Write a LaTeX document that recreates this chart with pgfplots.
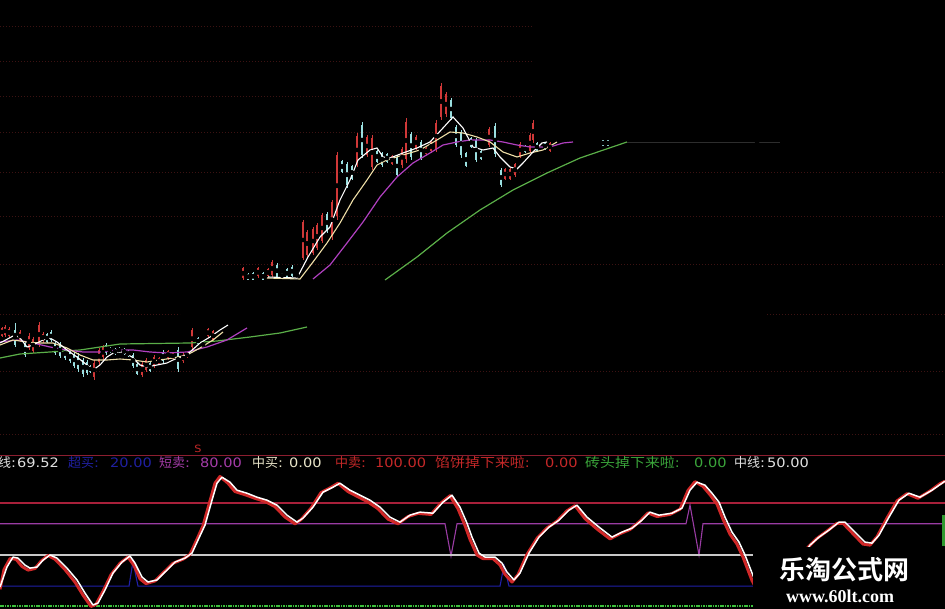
\documentclass[border=0pt]{standalone}
\usepackage{pgfplots}
\usepackage{pgfplotstable}
\usepackage{fontspec}
\pgfplotsset{compat=1.18}
\newfontfamily\cjk{Noto Sans CJK SC}
\newfontfamily\cjkwide[FakeStretch=1.15]{Noto Sans CJK SC}
\newfontfamily\cjkbold{Noto Sans CJK SC Bold}
\newfontfamily\num[FakeStretch=1.12]{DejaVu Sans}
\newfontfamily\wm{Liberation Serif}

\definecolor{candleup}{HTML}{D03838}
\definecolor{candledn}{HTML}{9ADFE0}
\definecolor{maW}{HTML}{FFFFFF}
\definecolor{maY}{HTML}{F0E0A8}
\definecolor{maP}{HTML}{B040C0}
\definecolor{maG}{HTML}{5AAE48}
\definecolor{gridred}{HTML}{3C1212}
\definecolor{sepred}{HTML}{8C1E30}
\definecolor{lvl100}{HTML}{A8203A}
\definecolor{lvl80}{HTML}{9A3CA4}
\definecolor{lvl50}{HTML}{C8C8C8}
\definecolor{lvl20}{HTML}{2020A8}
\definecolor{lvl0}{HTML}{3CC03C}
\definecolor{dline}{HTML}{D02828}
\definecolor{txtgrey}{HTML}{E0E0E0}
\definecolor{txtblue}{HTML}{2020A0}
\definecolor{txtpurple}{HTML}{A43CA8}
\definecolor{txtcream}{HTML}{E8E4C8}
\definecolor{txtred}{HTML}{C42828}
\definecolor{txtgreen}{HTML}{3AA43A}

% candles: x, wick top/bottom, body top/bottom (price panel, screen units)
\pgfplotstableread{
x hi lo bt bb
2 327 337 328 336
5 325 337 327 335
9 327 338 329 336
20 330 342 332 340
29 333 350 336 348
33 337 353 339 351
39 322 347 325 344
43 332 343 334 341
94 360 380 363 377
99 348 365 350 362
103 345 360 347 357
142 362 377 364 375
146 358 372 360 370
154 355 368 357 366
159 357 365 358 364
168 350 360 351 358
173 352 360 353 359
183 353 363 355 361
187 352 358 353 357
192 328 350 330 347
208 328 338 329 336
213 330 342 331 340
243 267 280 268 278
258 267 278 268 276
268 268 277 269 276
272 260 277 262 275
297 273 277 274 277
303 220 260 222 258
307 230 257 232 255
313 227 255 229 253
317 223 250 225 248
322 213 243 215 241
332 200 240 202 237
337 152 220 155 216
357 133 167 136 164
367 135 157 137 155
372 135 170 138 167
392 155 165 156 164
402 147 168 149 165
406 118 163 122 159
416 135 150 137 148
426 147 155 148 154
431 140 153 142 151
436 120 152 123 149
441 83 120 86 117
446 92 117 94 114
489 127 147 129 145
505 168 180 169 179
510 168 180 169 179
515 163 177 164 175
520 142 158 144 156
530 133 153 135 151
533 120 143 123 140
550 142 152 143 151
}\upcandles

\pgfplotstableread{
x hi lo bt bb
15 323 347 330 345
25 342 357 344 355
47 333 343 334 342
51 330 342 332 340
55 342 355 344 353
60 342 358 344 356
65 347 360 349 358
70 350 363 352 361
74 352 368 354 366
78 353 372 356 369
83 358 377 360 374
87 360 375 362 373
90 365 373 366 372
106 343 355 345 353
110 347 353 348 352
115 348 355 349 354
119 347 353 348 352
124 348 355 349 354
128 350 357 351 356
133 353 368 355 366
137 363 375 364 374
150 362 372 363 371
163 350 363 352 361
178 347 372 350 369
198 337 345 338 344
203 342 347 342 347
248 273 280 274 280
253 272 280 273 280
263 272 280 273 280
277 263 278 265 277
282 273 278 273 278
287 268 278 269 278
292 265 277 267 276
327 212 233 214 231
342 160 173 161 172
347 162 188 164 185
352 165 180 166 179
362 122 158 125 155
377 150 163 151 162
382 152 167 153 165
387 153 163 154 162
397 155 177 157 175
411 132 160 134 157
421 140 160 142 158
451 98 120 100 118
456 125 147 127 145
461 130 158 132 155
466 152 167 153 166
471 137 148 138 147
476 138 162 140 160
481 150 160 151 159
495 123 157 126 154
501 168 187 170 185
525 145 153 146 152
537 142 152 143 151
545 142 150 143 149
603 140 146 140 146
608 140 146 140 146
757 141 143 141 143
}\dncandles

% oscillator: fast line (white) and slow line (red)
\pgfplotstableread{
x v
0 19.2
7 38.5
13 48
18 47
25 40.3
30 37.4
37 38.4
43 45
50 50
57 47
67 37.4
77 26
85 13.4
93 1.9
98 3.8
105 16.3
113 32.6
122 43.2
130 49
135 42.2
142 28.8
148 24
157 26
167 35.5
175 43.2
185 47
192 51.8
198 64.3
205 78.7
212 102.7
217 119
222 124.8
230 120
237 112.3
247 109.4
257 105.6
267 102.7
277 97.9
287 88.3
297 81.6
303 85.4
313 96
323 110.4
333 115.2
340 119
350 112.3
360 107.5
370 102.7
380 96
390 86.4
400 81.6
410 88.3
420 91.2
433 90.2
443 100.8
452 107.5
460 96
467 80.6
472 67.2
479 51.8
485 48
495 48
502 42.2
507 33.6
514 26
520 32.6
529 51.8
539 67.2
549 76.8
559 83.5
569 93.1
577 97.9
587 86.4
599 76.8
612 67.2
622 72
632 75.8
642 83.5
650 91.2
659 88.3
672 90.2
682 95
690 112.3
697 120
705 117.1
712 109.4
719 100.8
725 86.4
732 72
739 62.4
745 50
754 27.8
765 8
780 15
795 38
810 59.5
819 67.2
829 74
839 81.6
845 81.6
855 72
865 62.4
872 61.4
879 69
889 86.4
899 102.7
909 109.4
920 105.6
932 112.3
942 119
945 121
}\kline

\pgfplotstableread{
x v
0 17
4 36
10 46.5
16 46
22 39
28 35.5
35 37
41 44
48 49.5
55 46
65 36
75 24
83 11.5
91 0.5
96 2.5
103 15
111 31
120 42
128 48
134 40
140 27
146 22.5
155 25
165 34.5
173 42
183 46
190 50.5
196 63
203 78
210 102
215 119
220 125.5
228 119
235 111
245 108
255 104.5
265 101.5
275 96.5
285 86.5
295 80
301 84
311 95
321 110
331 115
338 119
348 111
358 106
368 101
378 94.5
388 84.5
398 80
408 87
418 90
431 89
441 100
450 107
458 94.5
465 78.5
470 65
477 50
483 46.5
493 46.5
500 40.5
505 31.5
512 24
518 31
527 50.5
537 66
547 76
557 82.5
567 92.5
575 97.5
585 85
597 75
610 65.5
620 70.5
630 74.5
640 82.5
648 90.5
657 87
670 89
680 94
688 112
695 120.5
703 116
710 108
717 99
723 84.5
730 70
737 60.5
743 48
752 25.5
763 6
778 13
793 36
808 57.5
817 66
827 73
837 80.5
843 80.5
853 70.5
863 60.5
870 59.5
877 67.5
887 85.5
897 102
907 109
918 104.5
930 111.5
940 118.5
945 121
}\dline

\begin{document}
\begin{tikzpicture}
\useasboundingbox (0,0) rectangle (945pt,609pt);
\clip (0,0) rectangle (945pt,609pt);
\fill[black] (0,0) rectangle (945pt,609pt);

% ---------------- price panel ----------------
\begin{axis}[at={(0pt,609pt)}, anchor=north west, scale only axis,
  width=945pt, height=445pt, xmin=0, xmax=945, ymin=0, ymax=445,
  y dir=reverse, hide axis]
% dotted price levels
\pgfplotsforeachungrouped \yy in {27,62,97,133}{
  \addplot[gridred, dotted, line width=1pt, forget plot] coordinates {(0,\yy) (533,\yy)};}
\pgfplotsforeachungrouped \yy in {173,217,265,372,435}{
  \addplot[gridred, dotted, line width=1pt, forget plot] coordinates {(0,\yy) (945,\yy)};}
\addplot[gridred, dotted, line width=1pt] coordinates {(0,315) (180,315)};
\addplot[gridred, dotted, line width=1pt] coordinates {(767,315) (945,315)};

% wicks and bodies
\addplot[only marks, mark=none, error bars/.cd, y dir=both, y explicit,
  error mark=none, error bar style={draw=candleup, line width=0.9pt}]
  table[x=x, y expr={0.5*(\thisrow{hi}+\thisrow{lo})}, y error expr={0.5*(\thisrow{lo}-\thisrow{hi})}] {\upcandles};
\addplot[only marks, mark=none, error bars/.cd, y dir=both, y explicit,
  error mark=none, error bar style={draw=candleup, line width=2.6pt}]
  table[x=x, y expr={0.5*(\thisrow{bt}+\thisrow{bb})}, y error expr={0.5*(\thisrow{bb}-\thisrow{bt})}] {\upcandles};
\addplot[only marks, mark=none, error bars/.cd, y dir=both, y explicit,
  error mark=none, error bar style={draw=candledn, line width=0.9pt}]
  table[x=x, y expr={0.5*(\thisrow{hi}+\thisrow{lo})}, y error expr={0.5*(\thisrow{lo}-\thisrow{hi})}] {\dncandles};
\addplot[only marks, mark=none, error bars/.cd, y dir=both, y explicit,
  error mark=none, error bar style={draw=candledn, line width=2.6pt}]
  table[x=x, y expr={0.5*(\thisrow{bt}+\thisrow{bb})}, y error expr={0.5*(\thisrow{bb}-\thisrow{bt})}] {\dncandles};

% moving averages, first section
\addplot[maG, line width=1.2pt] coordinates {(0,358) (20,354) (50,352) (80,350) (100,347) (120,344) (190,343) (217,341) (250,337) (280,333) (307,327)};
\addplot[maP, line width=1.2pt] coordinates {(0,342) (17,340) (33,343) (50,347) (67,350) (83,352) (100,352) (117,350) (133,350) (150,352) (167,353) (187,352) (207,347) (227,340) (247,328)};
\addplot[maY, line width=1.1pt] coordinates {(0,345) (13,340) (27,342) (40,343) (53,343) (67,348) (80,355) (93,360) (107,360) (120,359) (133,360) (147,362) (160,360) (173,358) (187,355) (200,348) (213,340) (223,332)};
\addplot[maW, line width=1.1pt] coordinates {(0,343) (15,335) (20,338) (27,347) (33,345) (43,340) (50,338) (57,342) (67,350) (77,357) (87,365) (93,370) (100,365) (107,357) (115,352) (123,352) (132,357) (140,365) (147,367) (157,365) (167,363) (173,360) (182,357) (190,352) (200,343) (210,337) (220,330) (228,325)};

% moving averages, second section
\addplot[maG, line width=1.2pt] coordinates {(385,280) (417,257) (447,233) (480,210) (513,190) (547,173) (580,158) (627,142)};
\addplot[gray!35!black, line width=0.9pt] coordinates {(627,142) (780,142)};
\addplot[maP, line width=1.2pt] coordinates {(313,279) (330,265) (347,243) (363,222) (380,197) (397,177) (413,163) (430,153) (443,145) (457,142) (470,140) (490,140) (503,142) (517,145) (530,147) (550,147) (563,143) (573,142)};
\addplot[maY, line width=1.1pt] coordinates {(267,278) (300,279) (313,262) (327,243) (340,223) (353,200) (367,180) (377,165) (387,160) (403,155) (420,150) (437,140) (450,132) (463,133) (477,137) (490,142) (503,152) (517,157) (530,153) (543,150) (557,142)};
\addplot[maW, line width=1.1pt] coordinates {(268,277) (297,278) (308,257) (320,237) (330,227) (340,200) (350,180) (358,160) (370,150) (377,148) (383,157) (390,158) (403,153) (417,148) (430,142) (443,128) (453,117) (463,128) (473,147) (483,150) (493,148) (500,157) (510,167) (517,169) (523,163) (533,152) (542,143) (547,142)};
\end{axis}

% ---------------- oscillator panel ----------------
\begin{axis}[at={(0pt,0pt)}, anchor=south west, scale only axis,
  width=945pt, height=154pt, xmin=0, xmax=945, ymin=-1.92, ymax=146.15,
  hide axis]
\addplot[sepred, line width=1pt] coordinates {(0,145.4) (945,145.4)};
\addplot[lvl100, line width=1.1pt] coordinates {(0,100) (945,100)};
\addplot[lvl80, line width=1.1pt] coordinates {(0,80) (445,80) (451,49) (457,80) (686,80) (690,98) (699,50) (703,80) (945,80)};
\addplot[lvl50, line width=1.1pt] coordinates {(0,50) (945,50)};
\addplot[lvl20, line width=1.1pt] coordinates {(0,20) (129,20) (133,44) (138,20) (500,20) (504,40) (509,20) (945,20)};
\addplot[lvl0, line width=2.6pt, dash pattern=on 1.6pt off 0.8pt] coordinates {(0,1) (945,1)};
\addplot[lvl0!80!black, line width=3pt] coordinates {(943,59) (943,88)};
\addplot[dline, line width=3pt, line join=round] table[x=x, y=v] {\dline};
\addplot[white, line width=1.5pt, line join=round] table[x=x, y=v] {\kline};
% site stamp panel
\fill[black] (axis cs:753,-3) rectangle (axis cs:946,57.7);
\end{axis}

% signal marker above the oscillator
\node[text=txtred, font=\num\fontsize{10}{10}\selectfont, inner sep=0] at (198pt,160pt) {S};

% oscillator readout
\begin{scope}[every node/.style={anchor=west, inner sep=0}]
\node[text=txtgrey] at (-2pt,146pt) {\fontsize{13}{13}\cjk 线\num :};
\node[text=txtgrey] at (17pt,146pt) {\fontsize{13}{13}\num 69.52};
\node[text=txtblue] at (68pt,146pt) {\fontsize{13}{13}\cjk 超买\num :};
\node[text=txtblue] at (110pt,146pt) {\fontsize{13}{13}\num 20.00};
\node[text=txtpurple] at (159pt,146pt) {\fontsize{13}{13}\cjk 短卖\num :};
\node[text=txtpurple] at (200pt,146pt) {\fontsize{13}{13}\num 80.00};
\node[text=txtcream] at (252pt,146pt) {\fontsize{13}{13}\cjk 中买\num :};
\node[text=txtcream] at (289pt,146pt) {\fontsize{13}{13}\num 0.00};
\node[text=txtred] at (335pt,146pt) {\fontsize{13}{13}\cjk 中卖\num :};
\node[text=txtred] at (375pt,146pt) {\fontsize{13}{13}\num 100.00};
\node[text=txtred] at (435pt,146pt) {\fontsize{13}{13}\cjkwide 馅饼掉下来啦\num :};
\node[text=txtred] at (545pt,146pt) {\fontsize{13}{13}\num 0.00};
\node[text=txtgreen] at (585pt,146pt) {\fontsize{13}{13}\cjkwide 砖头掉下来啦\num :};
\node[text=txtgreen] at (694pt,146pt) {\fontsize{13}{13}\num 0.00};
\node[text=txtgrey] at (734pt,146pt) {\fontsize{13}{13}\cjk 中线\num :};
\node[text=txtgrey] at (767pt,146pt) {\fontsize{13}{13}\num 50.00};
\end{scope}

% site stamp
\node[text=white, anchor=center, inner sep=0] at (844pt,39pt) {\fontsize{26}{26}\cjkbold 乐淘公式网};
\node[text=white, anchor=center, inner sep=0] at (840pt,13pt) {\fontsize{18}{18}\wm\bfseries www.60lt.com};
\end{tikzpicture}
\end{document}
